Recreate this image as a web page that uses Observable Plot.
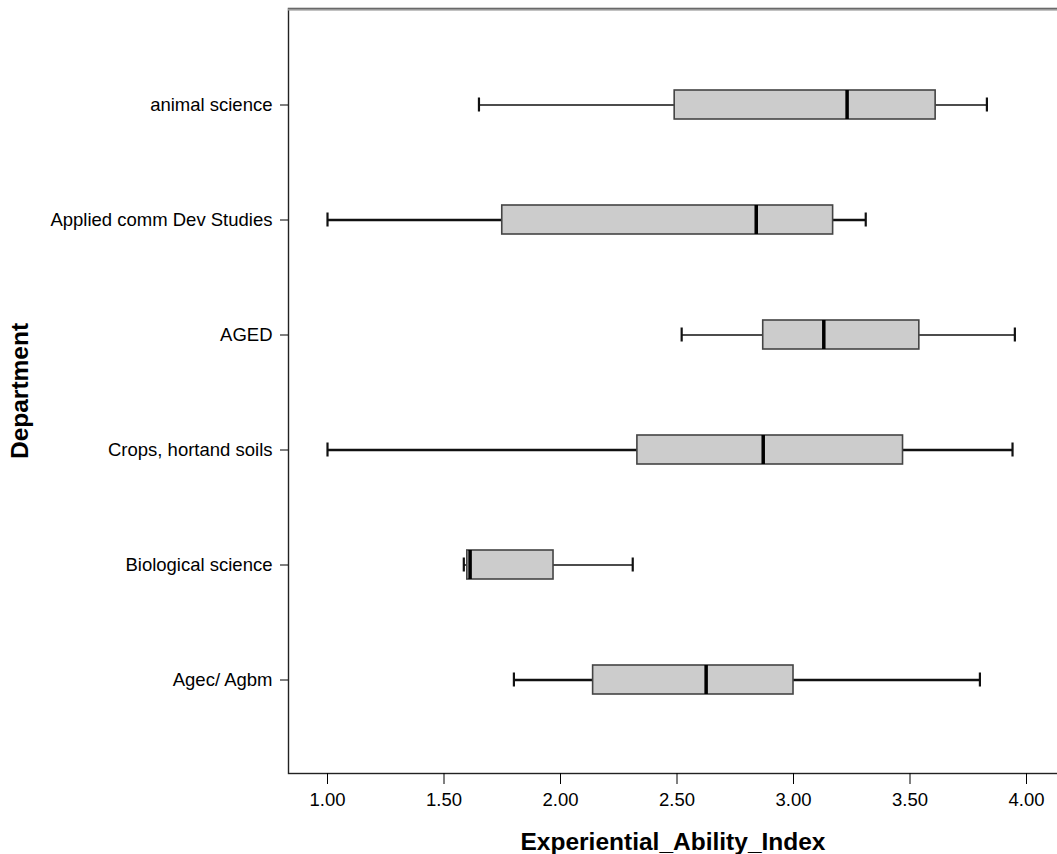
<!DOCTYPE html>
<html><head><meta charset="utf-8">
<script src="https://cdn.jsdelivr.net/npm/d3@7"></script>
<script src="https://cdn.jsdelivr.net/npm/@observablehq/plot@0.6"></script>
<style>
body{margin:0;background:#fff;}
#chart{width:1057px;height:854px;overflow:hidden;}
</style></head><body><div id="chart"></div>
<script>
const departments = ["animal science","Applied comm Dev Studies","AGED","Crops, hortand soils","Biological science","Agec/ Agbm"];
const whiskerLow  = [1.65, 1.00, 2.52, 1.00, 1.585, 1.80];
const q1          = [2.49, 1.75, 2.87, 2.33, 1.60, 2.14];
const median      = [3.23, 2.84, 3.13, 2.87, 1.612, 2.625];
const q3          = [3.61, 3.17, 3.54, 3.47, 1.97, 3.00];
const whiskerHigh = [3.83, 3.31, 3.95, 3.94, 2.31, 3.80];
const xTicks = [1.0, 1.5, 2.0, 2.5, 3.0, 3.5, 4.0];
const xLabel = "Experiential_Ability_Index";
const yLabel = "Department";

const xDomain = [0.8326, 4.133];
const boldWhisker = new Set(["Applied comm Dev Studies","Crops, hortand soils","Agec/ Agbm"]);
const rows = departments.map((d, i) => ({dept: d, low: whiskerLow[i], q1: q1[i], med: median[i], q3: q3[i], high: whiskerHigh[i]}));
const ww = d => boldWhisker.has(d.dept) ? 2.6 : 1.5;

const plot = Plot.plot({
  width: 1057, height: 854,
  marginLeft: 288, marginRight: 0, marginTop: 8, marginBottom: 81,
  style: {fontFamily: "'Liberation Sans', Arial, sans-serif", fontSize: "18.5px", color: "#000", background: "#fff", overflow: "hidden", maxWidth: "none"},
  x: {domain: xDomain},
  y: {type: "band", domain: departments, paddingInner: 0.749, paddingOuter: 0.676, insetTop: 3},
  marks: [
    Plot.frame({stroke: "#222", strokeWidth: 1.4, insetRight: -8}),
    Plot.frame({stroke: "#999", strokeWidth: 2.2, insetTop: 1, insetLeft: -400, insetRight: -30, insetBottom: -300, clip: true}),
    Plot.ruleY(rows, {y: "dept", x1: "low", x2: "high", stroke: "#111", strokeWidth: ww}),
    Plot.tickX(rows, {x: "low", y: "dept", insetTop: 7.5, insetBottom: 7.5, stroke: "#111", strokeWidth: 2.2}),
    Plot.tickX(rows, {x: "high", y: "dept", insetTop: 7.5, insetBottom: 7.5, stroke: "#111", strokeWidth: 2.2}),
    Plot.barX(rows, {x1: "q1", x2: "q3", y: "dept", fill: "#cccccc", stroke: "#444", strokeWidth: 1.6}),
    Plot.tickX(rows, {x: "med", y: "dept", stroke: "#000", strokeWidth: 3.5}),
    Plot.axisX({ticks: xTicks, tickFormat: d3.format(".2f"), tickSize: 11, tickPadding: 8, label: null, fontSize: 18.5}),
    Plot.axisY({tickSize: 8, tickPadding: 8, label: null, fontSize: 18.5}),
    Plot.text([xLabel], {text: d => d, frameAnchor: "bottom", lineAnchor: "middle", textAnchor: "middle", dy: 69, fontWeight: "bold", fontSize: 24.5}),
    Plot.text([yLabel], {text: d => d, frameAnchor: "left", lineAnchor: "middle", textAnchor: "middle", dx: -268, rotate: -90, fontWeight: "bold", fontSize: 24.5})
  ]
});
document.getElementById("chart").appendChild(plot);
</script></body></html>
